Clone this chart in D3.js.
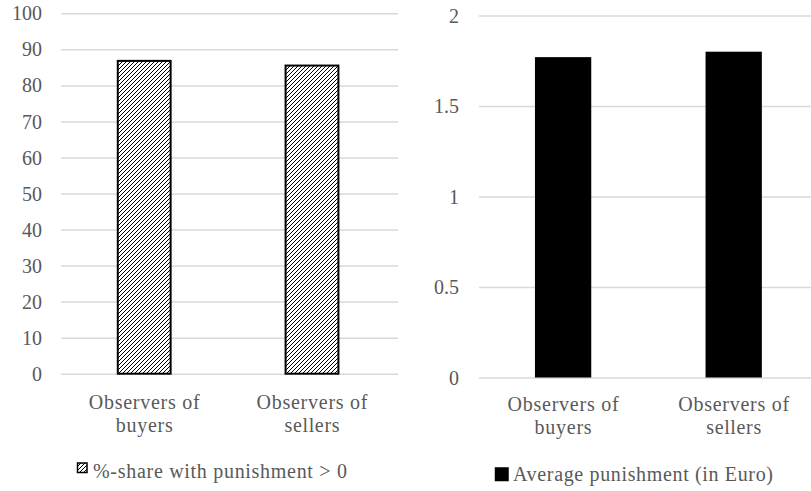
<!DOCTYPE html>
<html><head><meta charset="utf-8">
<script src="https://cdn.jsdelivr.net/npm/d3@7"></script>
<style>
html,body{margin:0;padding:0;background:#fff;overflow:hidden}
</style></head>
<body>
<script>
const categories = ["Observers of buyers", "Observers of sellers"];
const categoryLines = [["Observers of", "buyers"], ["Observers of", "sellers"]];
const shareValues = [86.8, 85.5];
const avgPunishment = [1.77, 1.80];
const leftTicks = [0,10,20,30,40,50,60,70,80,90,100];
const rightTicks = [0,0.5,1,1.5,2];
const leftLegend = "%-share with punishment > 0";
const rightLegend = "Average punishment (in Euro)";

const FONT = '"Liberation Serif", "Times New Roman", serif';
const W = 811, H = 491;
const svg = d3.select("body").append("svg").attr("width", W).attr("height", H)
  .style("font-family", FONT);

const defs = svg.append("defs");
const pat = defs.append("pattern").attr("id","hatch").attr("patternUnits","userSpaceOnUse")
  .attr("width",4).attr("height",4);
pat.append("rect").attr("width",4).attr("height",4).attr("fill","#fff");
pat.append("path").attr("d","M-1,1 l2,-2 M0,4 l4,-4 M3,5 l2,-2")
  .attr("stroke","#000").attr("stroke-width",1);

const lineWidths = {"Observers of":111, "buyers":57, "sellers":55};

function panel(opts){
  const g = svg.append("g");
  const y = d3.scaleLinear().domain(opts.domain).range(opts.yRange);
  const x = d3.scaleBand().domain(categories).range(opts.xRange).paddingInner(opts.pad).paddingOuter(opts.pad/2);
  const axis = d3.axisLeft(y).tickValues(opts.ticks).tickFormat(d => String(d))
    .tickSizeInner(-(opts.gridEnd - opts.gridStart)).tickSizeOuter(0).tickPadding(opts.tickPad);
  const ag = g.append("g").attr("transform", `translate(${opts.gridStart},0)`).call(axis);
  ag.attr("font-family", null).attr("font-size", null);
  ag.select(".domain").remove();
  ag.selectAll(".tick line").attr("stroke","#d9d9d9").attr("stroke-width",1.5);
  ag.selectAll(".tick text").style("font-size","20px").style("fill","#595959")
    .style("font-family",FONT).attr("dy","0.33em");

  g.selectAll("rect.bar").data(opts.values).join("rect").attr("class","bar")
    .attr("x",(d,i)=>x(categories[i])).attr("width",x.bandwidth())
    .attr("y",d=>y(d)).attr("height",d=>y(0)-y(d))
    .attr("fill",opts.fill).attr("stroke","#000").attr("stroke-width",opts.strokeW);

  categories.forEach((c,i)=>{
    categoryLines[i].forEach((ln,j)=>{
      g.append("text").attr("x", x(c)+x.bandwidth()/2).attr("y", y(0)+opts.labOff+j*23.5)
        .attr("text-anchor","middle").style("font-family",FONT).style("font-size","20px").style("fill","#595959")
        .attr("textLength", lineWidths[ln]).attr("lengthAdjust","spacing")
        .text(ln);
    });
  });
  g.append("rect").attr("x",opts.leg.sx).attr("y",opts.leg.sy).attr("width",opts.leg.ss).attr("height",opts.leg.ss)
    .attr("fill",opts.fill).attr("stroke","#000").attr("stroke-width",1.5);
  g.append("text").attr("x",opts.leg.tx).attr("y",opts.leg.ty)
    .style("font-family",FONT).style("font-size","20px").style("fill","#595959")
    .attr("textLength",opts.leg.tw).attr("lengthAdjust","spacing").text(opts.leg.text);
}

panel({domain:[0,100], yRange:[373.7,13.3], xRange:[60.3,395.9], pad:0.685, ticks:leftTicks,
  gridStart:61, gridEnd:398, tickPad:19, values:shareValues, fill:"url(#hatch)", strokeW:2,
  labOff:35,
  leg:{sx:77.5,sy:463,ss:9.5,tx:93,ty:477.5,tw:254,text:leftLegend}});

panel({domain:[0,2], yRange:[377.5,15.5], xRange:[477.8,819], pad:0.67, ticks:rightTicks,
  gridStart:479, gridEnd:811, tickPad:20, values:avgPunishment, fill:"#000", strokeW:0,
  labOff:33,
  leg:{sx:495.5,sy:468,ss:12.5,tx:513,ty:480.5,tw:260,text:rightLegend}});
</script>
</body></html>
